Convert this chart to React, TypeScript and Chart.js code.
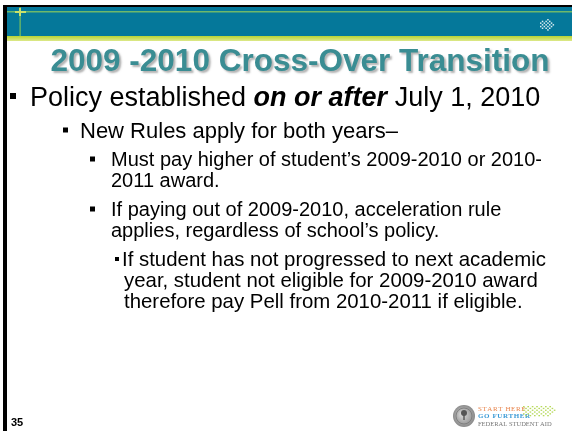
import React, { useEffect, useRef } from "react";
import { Chart, registerables } from "chart.js";

Chart.register(...registerables);

// ---- slide content ----
const slideTitle = "2009 -2010 Cross-Over Transition";
const bulletLevels = [1, 2, 3, 3, 4];
const bulletLines: string[][] = [
  ["Policy established *on or after* July 1, 2010"],
  ["New Rules apply for both years\u2013"],
  ["Must pay higher of student\u2019s 2009-2010 or 2010-", "2011 award."],
  ["If paying out of 2009-2010, acceleration rule", "applies, regardless of school\u2019s policy."],
  [
    "If student has not progressed to next academic",
    "year, student not eligible for 2009-2010 award",
    "therefore pay Pell from 2010-2011 if eligible.",
  ],
];
const pageNumber = "35";
const logoLines = ["START HERE", "GO FURTHER", "FEDERAL STUDENT AID"];

// ---- style tables (layout, not data) ----
const FONT = '"Liberation Sans", Arial, sans-serif';
const levelStyle: Record<number, { size: number; bx: number; bs: number; tx: number; tx2: number }> = {
  1: { size: 27, bx: 10, bs: 6, tx: 30, tx2: 30 },
  2: { size: 22, bx: 63, bs: 5, tx: 80, tx2: 80 },
  3: { size: 20, bx: 90, bs: 5, tx: 111, tx2: 111 },
  4: { size: 20.4, bx: 115, bs: 4, tx: 122, tx2: 124 },
};
const bulletCenters = [96, 130, 159, 209, 259];
const lineGap = 21;

function drawRich(ctx: CanvasRenderingContext2D, text: string, x: number, y: number, size: number) {
  const parts = text.split("*");
  let cx = x;
  parts.forEach((p, i) => {
    ctx.font = (i % 2 === 1 ? "italic bold " : "") + size + "px " + FONT;
    ctx.fillText(p, cx, y);
    cx += ctx.measureText(p).width;
  });
}

const slidePlugin = {
  id: "slide",
  afterDraw(chart: any) {
    const ctx: CanvasRenderingContext2D = chart.ctx;
    const W = chart.width;
    const H = chart.height;
    ctx.save();
    ctx.fillStyle = "#ffffff";
    ctx.fillRect(0, 0, W, H);

    // header band
    ctx.fillStyle = "#05789a";
    ctx.fillRect(7, 7, W - 7, 29);
    ctx.fillStyle = "#6fb86a";
    ctx.fillRect(7, 11, W - 7, 1.5);
    const g = ctx.createLinearGradient(0, 36, 0, 41);
    g.addColorStop(0, "#b7d333");
    g.addColorStop(1, "#dde98a");
    ctx.fillStyle = g;
    ctx.fillRect(7, 36, W - 7, 5);
    // thin vertical line + cross
    ctx.fillStyle = "#7cc05a";
    ctx.fillRect(19.5, 7, 1.2, 29);
    ctx.fillStyle = "#c9e06a";
    ctx.fillRect(15, 11, 11, 2);
    ctx.fillRect(19, 8, 2, 8);
    // arrow icon (dotted)
    ctx.fillStyle = "rgba(230,242,246,0.95)";
    const ax = 540, ay = 19;
    for (let r = 0; r < 7; r++) {
      for (let c = 0; c < 8; c++) {
        const inside = c <= 3 ? r >= 1 && r <= 5 : Math.abs(r - 3) <= 7 - c;
        if (inside && (r + c) % 2 === 0) ctx.fillRect(ax + c * 1.8, ay + r * 1.7, 1.5, 1.5);
      }
    }

    // black frame
    ctx.fillStyle = "#000000";
    ctx.fillRect(3, 5, W - 3, 2);
    ctx.fillRect(3, 5, 4, H - 5);

    // title
    ctx.font = "bold 31.5px " + FONT;
    ctx.textAlign = "center";
    ctx.textBaseline = "alphabetic";
    ctx.shadowColor = "rgba(0,0,0,0.3)";
    ctx.shadowOffsetX = 2;
    ctx.shadowOffsetY = 2;
    ctx.shadowBlur = 2;
    ctx.fillStyle = "#3a8d93";
    ctx.fillText(slideTitle, 300, 71);
    ctx.shadowColor = "transparent";
    ctx.shadowBlur = 0;
    ctx.shadowOffsetX = 0;
    ctx.shadowOffsetY = 0;

    // bullets
    ctx.textAlign = "left";
    bulletLines.forEach((lines, i) => {
      const st = levelStyle[bulletLevels[i]];
      const cy = bulletCenters[i];
      ctx.fillStyle = "#000000";
      ctx.fillRect(st.bx, cy - st.bs / 2, st.bs, st.bs);
      lines.forEach((ln, j) => {
        const y = cy + j * lineGap + st.size * 0.36;
        drawRich(ctx, ln, j === 0 ? st.tx : st.tx2, y, st.size);
      });
    });

    // page number
    ctx.font = "bold 11px " + FONT;
    ctx.fillStyle = "#000000";
    ctx.fillText(pageNumber, 11, 426);

    // logo seal
    const sx = 464, sy = 416;
    const sg = ctx.createRadialGradient(sx - 2, sy - 2, 1, sx, sy, 11);
    sg.addColorStop(0, "#d8d8d8");
    sg.addColorStop(1, "#8a8a8a");
    ctx.fillStyle = sg;
    ctx.beginPath();
    ctx.arc(sx, sy, 11, 0, Math.PI * 2);
    ctx.fill();
    ctx.strokeStyle = "#777";
    ctx.lineWidth = 0.8;
    ctx.beginPath();
    ctx.arc(sx, sy, 8, 0, Math.PI * 2);
    ctx.stroke();
    ctx.fillStyle = "#555";
    ctx.fillRect(sx - 0.7, sy - 4, 1.4, 8);
    ctx.beginPath();
    ctx.arc(sx, sy - 3, 3, 0, Math.PI * 2);
    ctx.fill();

    // logo text
    ctx.font = "7px \"Liberation Serif\", serif";
    ctx.fillStyle = "#e8844c";
    ctx.fillText(logoLines[0].split("").join("\u200A"), 478, 411);
    ctx.font = "bold 7px \"Liberation Serif\", serif";
    ctx.fillStyle = "#3a9ad6";
    ctx.fillText(logoLines[1].split("").join("\u200A"), 478, 418);
    ctx.font = "6.5px \"Liberation Serif\", serif";
    ctx.fillStyle = "#777777";
    ctx.fillText(logoLines[2], 478, 426);
    // green dotted arrow
    ctx.fillStyle = "#b6d95a";
    for (let r = 0; r < 6; r++) {
      for (let c = 0; c < 16; c++) {
        const tip = c >= 12 ? Math.abs(r - 2.5) <= 15 - c : true;
        if (tip && (r + c) % 2 === 0) ctx.fillRect(523 + c * 2.2, 406 + r * 1.8, 1.6, 1.3);
      }
    }
    ctx.restore();
  },
};

export default function App() {
  const ref = useRef<HTMLCanvasElement | null>(null);
  useEffect(() => {
    if (!ref.current) return;
    const chart = new Chart(ref.current, {
      type: "scatter",
      data: { datasets: [] },
      options: {
        animation: false,
        responsive: false,
        events: [],
        layout: { padding: 0 },
        plugins: {
          legend: { display: false },
          tooltip: { enabled: false },
          title: { display: false },
        },
        scales: { x: { display: false }, y: { display: false } },
      },
      plugins: [slidePlugin],
    });
    return () => chart.destroy();
  }, []);
  return (
    <div style={{ position: "fixed", left: 0, top: 0, width: 572, height: 431, background: "#fff" }}>
      <canvas ref={ref} width={572} height={431} style={{ display: "block", width: 572, height: 431 }} />
    </div>
  );
}
